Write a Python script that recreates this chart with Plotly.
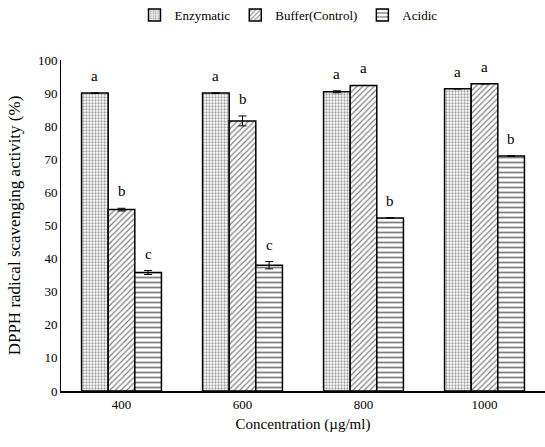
import plotly.graph_objects as go

categories = ["400", "600", "800", "1000"]
series_names = ["Enzymatic", "Buffer(Control)", "Acidic"]
enzymatic = [90.0, 90.0, 90.4, 91.3]
buffer_ctrl = [54.8, 81.6, 92.3, 92.8]
acidic = [35.8, 38.0, 52.3, 71.0]
enzymatic_err = [0.0, 0.0, 0.3, 0.0]
buffer_err = [0.4, 1.5, 0.0, 0.0]
acidic_err = [0.6, 1.1, 0.0, 0.0]
letters_enz = ["a", "a", "a", "a"]
letters_buf = ["b", "b", "a", "a"]
letters_acid = ["c", "c", "b", "b"]

values = [enzymatic, buffer_ctrl, acidic]
errors = [enzymatic_err, buffer_err, acidic_err]
letters = [letters_enz, letters_buf, letters_acid]
patterns = [".", "/", "-"]
pattern_sizes = [3, 4, 5]
solidities = [0.45, 0.3, 0.35]
pattern_colors = ["#444444", "black", "black"]

FONT = "Times New Roman, Liberation Serif, serif"
BARGAP = 0.34

fig = go.Figure()
for i, name in enumerate(series_names):
    fig.add_trace(go.Bar(
        x=categories, y=values[i], name=name,
        marker=dict(color="white", line=dict(color="black", width=1.5),
                    pattern=dict(shape=patterns[i], fgcolor=pattern_colors[i], bgcolor="white",
                                 size=pattern_sizes[i], solidity=solidities[i])),
        error_y=dict(type="data", array=errors[i], color="black", thickness=1, width=4),
        offsetgroup=str(i),
    ))

n = len(series_names)
bw = (1 - BARGAP) / n
for i in range(n):
    for j, c in enumerate(categories):
        xpos = j + (i - (n - 1) / 2) * bw
        fig.add_annotation(x=xpos, y=values[i][j] + errors[i][j], xref="x", yref="y",
                           text=letters[i][j], showarrow=False, yanchor="bottom", yshift=7,
                           font=dict(family=FONT, size=15, color="black"))

fig.update_layout(
    width=545, height=447,
    margin=dict(l=61, r=0, t=60, b=56),
    paper_bgcolor="white", plot_bgcolor="white",
    barmode="group", bargap=BARGAP, bargroupgap=0,
    font=dict(family=FONT, size=13, color="black"),
    showlegend=True,
    legend=dict(orientation="h", x=0.47, xanchor="center", y=1.0, yanchor="top",
                yref="container", font=dict(family=FONT, size=13), itemwidth=30),
    xaxis=dict(type="category", showline=True, linecolor="black", linewidth=2,
               ticks="", title=dict(text="Concentration (µg/ml)", font=dict(family=FONT, size=15), standoff=8),
               tickfont=dict(family=FONT, size=13)),
    yaxis=dict(range=[0, 100], dtick=10, showline=True, linecolor="black", linewidth=1,
               showgrid=False, ticks="", zeroline=False,
               title=dict(text="DPPH radical scavenging activity (%)", font=dict(family=FONT, size=17), standoff=12),
               tickfont=dict(family=FONT, size=13)),
)

fig.write_html("out.html", config={"displayModeBar": False},
               post_script="document.body.style.margin='0';")
